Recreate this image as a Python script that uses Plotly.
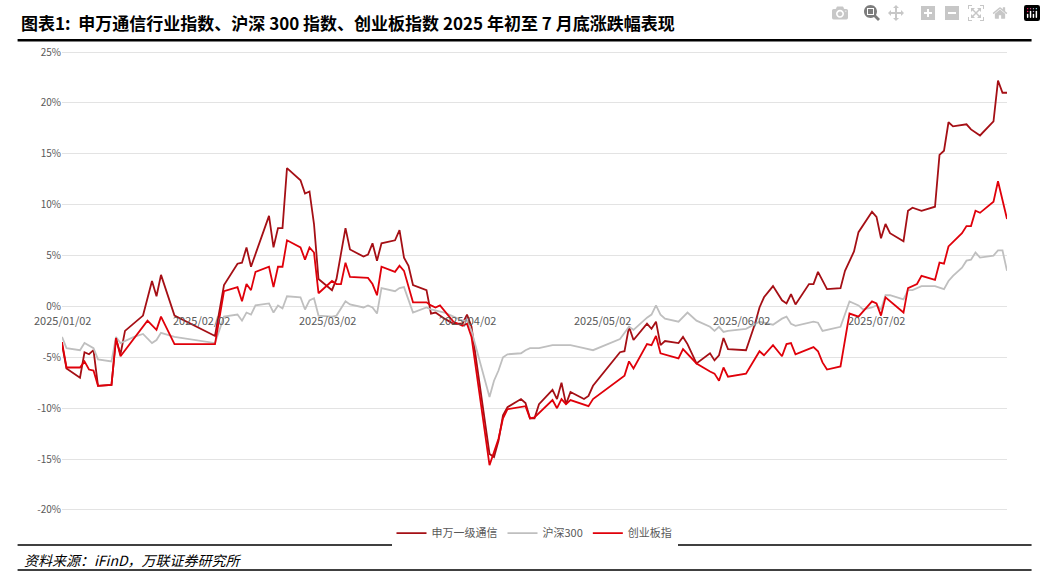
import pandas as pd
import plotly.graph_objects as go

# (trading day offset from 2025-01-02, % change)
tele = [(0,-3.7),(1,-6.1),(4,-7.0),(5,-4.5),(6,-4.7),(7,-4.3),(8,-7.8),(11,-7.7),(12,-3.2),(13,-4.7),(14,-2.4),(18,-0.9),(20,2.5),(21,1.0),(22,3.1),(25,-0.9),
        (34,-2.9),(36,2.1),(39,4.2),(40,4.3),(41,5.8),(42,3.9),(46,8.9),(47,5.8),(48,7.7),(49,7.7),(50,13.6),(53,12.4),(54,11.1),(55,11.3),(56,8.1),(57,2.7),
        (60,1.6),(61,2.7),(63,7.7),(64,5.6),(67,4.9),(68,5.1),(69,6.2),(70,4.5),(71,6.2),(74,6.5),(75,7.5),(76,4.8),(77,4.0),(78,2.1),(81,1.6),(82,-0.7),(83,-0.6),
        (85,-1.2),(87,-1.7),(89,-1.7),(90,-0.8),(91,-2.0),(95,-14.5),(96,-14.8),(97,-13.2),(98,-10.7),(99,-9.9),(102,-9.1),(103,-9.5),(104,-11.0),(105,-11.0),
        (106,-9.6),(109,-8.2),(110,-9.1),(111,-7.5),(112,-9.6),(113,-8.4),(116,-9.1),(117,-8.8),(118,-7.8),(124,-4.5),(125,-4.4),(126,-2.0),(127,-3.3),(130,-1.7),
        (131,-2.2),(132,-1.5),(133,-3.8),(134,-3.4),(137,-3.6),(138,-3.0),(139,-3.7),(141,-5.6),(144,-4.6),(145,-5.3),(146,-4.8),(147,-3.1),(148,-4.2),(152,-4.3),
        (154,-1.7),(155,-0.1),(156,0.9),(158,2.0),(160,0.6),(161,0.3),(162,1.2),(163,0.2),(166,2.2),(167,2.2),(168,3.4),(170,1.7),(173,1.8),(174,3.5),(176,5.4),
        (177,7.3),(180,9.3),(181,8.8),(182,6.7),(183,8.1),(184,7.2),(187,6.4),(188,9.4),(189,9.7),(191,9.4),(194,9.8),(195,14.9),(196,15.3),(197,18.1),(198,17.7),
        (201,17.9),(202,17.4),(204,16.8),(207,18.2),(208,22.2),(209,21.0),(210,21.0)]

hs300 = [(0,-3.0),(1,-4.1),(4,-4.3),(5,-3.6),(7,-4.1),(8,-5.2),(11,-5.4),(12,-3.0),(13,-3.6),(16,-3.0),(18,-2.7),(20,-3.6),(21,-3.3),(22,-2.6),(25,-3.0),
         (34,-3.6),(36,-1.0),(39,-0.8),(40,-1.4),(41,-0.6),(42,-0.8),(43,0.1),(46,0.3),(47,-0.6),(48,0.1),(49,-0.2),(50,1.0),(53,0.9),(54,-0.3),(55,0.6),(56,0.8),
         (57,-0.9),(60,-1.0),(61,-0.9),(63,0.5),(64,0.2),(67,-0.1),(68,0.1),(69,-0.1),(70,-0.7),(71,1.8),(74,1.5),(75,1.8),(76,1.9),(78,-0.6),(81,-0.1),(82,-0.3),
         (85,-0.6),(87,-1.0),(89,-1.4),(90,-1.4),(91,-2.4),(95,-8.9),(96,-7.3),(97,-6.3),(98,-5.0),(99,-4.7),(102,-4.6),(103,-4.3),(104,-4.1),(106,-4.1),(109,-3.8),
         (111,-3.8),(113,-3.8),(116,-4.1),(118,-4.3),(124,-3.2),(125,-2.6),(126,-2.0),(127,-2.3),(130,-1.1),(131,-0.8),(132,0.1),(133,-0.8),(134,-1.2),(137,-1.5),
         (138,-1.0),(139,-0.6),(141,-1.4),(144,-2.0),(145,-2.4),(146,-2.0),(147,-2.5),(148,-2.4),(152,-2.2),(154,-1.7),(155,-1.5),(158,-1.8),(160,-1.2),(161,-1.0),
         (162,-1.7),(163,-1.9),(167,-1.5),(168,-1.6),(169,-2.4),(173,-2.0),(175,0.5),(177,0.1),(178,-0.3),(180,-0.1),(181,0.1),(182,-0.3),(183,1.1),(184,1.1),
         (187,0.7),(188,1.6),(189,1.6),(191,2.0),(194,2.0),(196,1.7),(197,2.5),(198,3.0),(200,3.8),(201,4.5),(202,4.6),(203,5.3),(204,4.8),(207,5.0),(208,5.5),
         (209,5.5),(210,3.5)]

gem = [(0,-3.5),(1,-6.0),(4,-6.0),(5,-5.4),(6,-6.2),(7,-6.3),(8,-7.8),(11,-7.7),(12,-3.1),(13,-4.9),(19,-1.4),(21,-2.3),(22,-1.0),(25,-3.7),(34,-3.7),
       (36,1.5),(39,1.9),(40,0.5),(41,2.2),(42,1.6),(43,3.4),(46,3.9),(47,1.9),(48,3.9),(49,3.9),(50,6.5),(53,5.8),(54,4.6),(55,5.8),(56,5.3),(57,1.3),(60,2.5),
       (61,2.2),(62,2.2),(63,4.3),(64,2.9),(68,2.8),(69,2.2),(70,1.1),(71,3.9),(74,3.4),(75,4.0),(76,3.5),(78,0.4),(81,0.4),(82,0.1),(83,-0.1),(84,0.1),(87,-1.5),
       (89,-1.9),(90,-1.7),(91,-3.0),(95,-15.6),(97,-13.0),(98,-11.0),(99,-10.1),(103,-9.8),(104,-11.0),(105,-10.9),(109,-9.2),(110,-10.0),(111,-9.1),(112,-9.6),
       (113,-9.2),(117,-9.8),(118,-9.1),(125,-6.8),(126,-5.4),(127,-6.1),(130,-3.7),(131,-3.8),(132,-2.9),(133,-4.6),(137,-5.1),(138,-4.2),(139,-4.7),(141,-5.6),
       (144,-6.4),(145,-6.6),(146,-7.3),(147,-6.0),(148,-6.9),(152,-6.6),(155,-4.4),(156,-4.8),(158,-3.8),(160,-4.9),(161,-3.7),(162,-3.6),(163,-4.7),(167,-4.0),
       (168,-4.4),(169,-5.5),(170,-6.2),(173,-5.9),(175,-0.7),(177,-1.0),(180,0.5),(181,0.3),(182,-0.9),(183,0.9),(187,-0.6),(188,1.8),(190,2.2),(191,3.0),
       (194,2.6),(195,4.3),(196,4.2),(197,5.9),(200,7.2),(201,7.9),(202,7.9),(203,9.4),(204,9.2),(207,10.3),(208,12.3),(210,8.6)]

tick_dates = ["2025-01-02", "2025-02-02", "2025-03-02", "2025-04-02", "2025-05-02", "2025-06-02", "2025-07-02"]
y_ticks = [-20, -15, -10, -5, 0, 5, 10, 15, 20, 25]

start = pd.Timestamp("2025-01-02")


def to_xy(series):
    x = [start + pd.Timedelta(days=d) for d, _ in series]
    y = [v for _, v in series]
    return x, y


fig = go.Figure()
for name, data, color in [("申万一级通信", tele, "#A50F15"), ("沪深300", hs300, "#BFBFBF"), ("创业板指", gem, "#E0000A")]:
    x, y = to_xy(data)
    fig.add_trace(go.Scatter(x=x, y=y, mode="lines", name=name, line=dict(color=color, width=1.8)))

# date labels sit on the zero line
for d in tick_dates:
    fig.add_annotation(x=d, y=0, text=d.replace("-", "/"), showarrow=False, yshift=-14,
                       font=dict(size=11, color="#595959"))

font = "Noto Sans CJK SC, sans-serif"
fig.update_layout(
    width=1046, height=575,
    margin=dict(l=62, r=39, t=49, b=62),
    plot_bgcolor="white", paper_bgcolor="white",
    font=dict(family=font, color="#595959", size=11),
    xaxis=dict(range=["2025-01-02", "2025-07-31"], showticklabels=False, showgrid=False, zeroline=False),
    yaxis=dict(range=[-20.3, 25.3], tickvals=y_ticks, ticktext=[f"{v}%" for v in y_ticks],
               gridcolor="#E3E3E3", zeroline=False, tickfont=dict(size=10)),
    legend=dict(orientation="h", x=0.5, xanchor="center", y=-0.012, yanchor="top", font=dict(size=11, color="#595959")),
    showlegend=True,
)

fig.add_annotation(xref="paper", yref="paper", x=-0.046, y=1.058, xanchor="left", yanchor="middle", showarrow=False,
                   text="<b>图表1:  申万通信行业指数、沪深 300 指数、创业板指数 2025 年初至 7 月底涨跌幅表现</b>",
                   font=dict(size=17, color="black", family=font))
fig.add_annotation(xref="paper", yref="paper", x=-0.042, y=-0.101, xanchor="left", yanchor="middle", showarrow=False,
                   text="<i>资料来源：iFinD，万联证券研究所</i>", font=dict(size=14, color="black", family=font))

for yp, w in [(1.019, 2.5), (-0.069, 1.5), (-0.123, 1.5)]:
    fig.add_shape(type="line", xref="paper", yref="paper", x0=-0.047, x1=1.026, y0=yp, y1=yp,
                  line=dict(color="black", width=w))

fig.write_html("out.html")

# drop the browser's default page margin so the figure sits at 0,0
with open("out.html", encoding="utf-8") as f:
    html = f.read()
html = html.replace("<head>", "<head><style>body{margin:0}</style>", 1)
with open("out.html", "w", encoding="utf-8") as f:
    f.write(html)
